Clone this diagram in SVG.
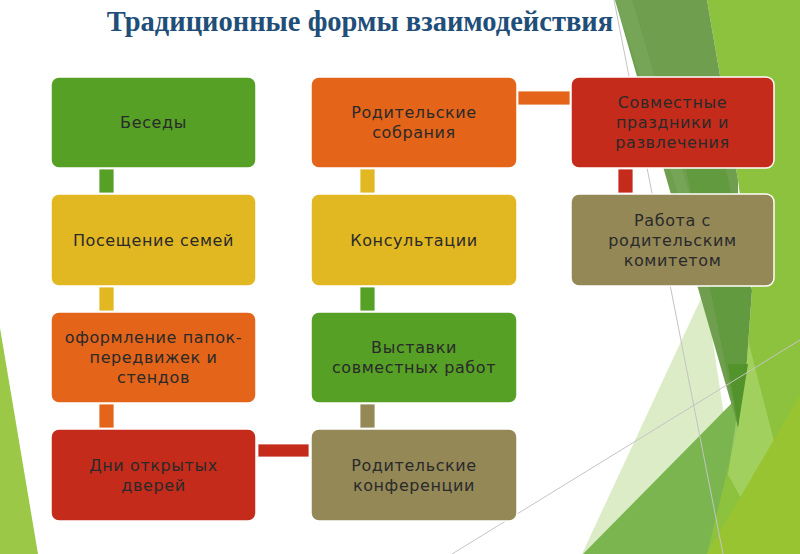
<svg xmlns="http://www.w3.org/2000/svg" width="800" height="554" viewBox="0 0 800 554">
<style>
.box{stroke:#ffffff;stroke-width:1.5}
.lbl{font-family:"DejaVu Sans","Noto Sans",sans-serif;font-size:16px;letter-spacing:0.6px;fill:#2a2a2a;text-anchor:middle}
.title{font-family:"Liberation Serif","Times New Roman",serif;font-weight:bold;font-size:28.5px;fill:#1f4e79;text-anchor:middle}
.g{fill:#55a025}.y{fill:#e1b822}.o{fill:#e46419}.r{fill:#c42b1a}.k{fill:#948857}
.con{stroke:#ffffff;stroke-width:0.8}
</style>
<rect width="800" height="554" fill="#ffffff"/>
<g id="decor">
  <polygon points="0,328 38,554 0,554" fill="#9cc847"/>
  <polygon points="705,290 582,554 745,554" fill="#c5e0a0" opacity="0.6"/>
  <polygon points="583,554 800,334 800,554" fill="#7ab54f"/>
  <polygon points="707,0 800,0 800,554 707,554 738,427 747,360 752,290 738,180" fill="#8cc23e"/>
  <polygon points="748,340 775,445 745,505 728,475" fill="#b8de7e" opacity="0.5"/>
  <polygon points="707,554 800,395 800,554" fill="#98c431"/>
  <polygon points="615,0 707,0 738,180 738,427" fill="#6f9f4e"/>
  <polygon points="615,0 632,0 700,230 690,230" fill="#7caa5e" opacity="0.6"/>
  <polygon points="680,140 725,165 752,290 747,360 738,427" fill="#629b3f"/>
  <polygon points="728,364 748,364 738,427" fill="#53932b"/>
  <line x1="614" y1="0" x2="723" y2="554" stroke="#c4c4c4" stroke-width="1"/>
  <line x1="452" y1="554" x2="800" y2="340" stroke="#c4c4c4" stroke-width="1"/>
</g>
<text class="title" x="360" y="31">Традиционные формы взаимодействия</text>
<g id="connectors">
  <rect class="con g" x="99" y="169" width="15" height="24"/>
  <rect class="con y" x="99" y="287" width="15" height="24"/>
  <rect class="con o" x="99" y="404" width="15" height="24"/>
  <rect class="con r" x="258" y="444" width="51" height="13"/>
  <rect class="con k" x="360" y="404" width="15" height="24"/>
  <rect class="con g" x="360" y="287" width="15" height="24"/>
  <rect class="con y" x="360" y="169" width="15" height="24"/>
  <rect class="con o" x="518" y="91" width="52" height="14"/>
  <rect class="con r" x="618" y="169" width="15" height="24"/>
</g>
<g id="n-besedy">
  <rect class="box g" x="51" y="77" width="205" height="91" rx="8"/>
  <text class="lbl" x="153.5" y="128.3">Беседы</text>
</g>
<g id="n-poseshchenie">
  <rect class="box y" x="51" y="194" width="205" height="92" rx="8"/>
  <text class="lbl" x="153.5" y="245.8">Посещение семей</text>
</g>
<g id="n-oformlenie">
  <rect class="box o" x="51" y="312" width="205" height="91" rx="8"/>
  <text class="lbl" x="153.5" y="343.3">оформление папок-</text>
  <text class="lbl" x="153.5" y="363.3">передвижек и</text>
  <text class="lbl" x="153.5" y="383.3">стендов</text>
</g>
<g id="n-dni">
  <rect class="box r" x="51" y="429" width="205" height="92" rx="8"/>
  <text class="lbl" x="153.5" y="470.8">Дни открытых</text>
  <text class="lbl" x="153.5" y="490.8">дверей</text>
</g>
<g id="n-sobrania">
  <rect class="box o" x="311" y="77" width="206" height="91" rx="8"/>
  <text class="lbl" x="414" y="118.3">Родительские</text>
  <text class="lbl" x="414" y="138.3">собрания</text>
</g>
<g id="n-konsultacii">
  <rect class="box y" x="311" y="194" width="206" height="92" rx="8"/>
  <text class="lbl" x="414" y="245.8">Консультации</text>
</g>
<g id="n-vystavki">
  <rect class="box g" x="311" y="312" width="206" height="91" rx="8"/>
  <text class="lbl" x="414" y="353.3">Выставки</text>
  <text class="lbl" x="414" y="373.3">совместных работ</text>
</g>
<g id="n-konferencii">
  <rect class="box k" x="311" y="429" width="206" height="92" rx="8"/>
  <text class="lbl" x="414" y="470.8">Родительские</text>
  <text class="lbl" x="414" y="490.8">конференции</text>
</g>
<g id="n-prazdniki">
  <rect class="box r" x="571" y="77" width="203" height="91" rx="8"/>
  <text class="lbl" x="672.5" y="108.3">Совместные</text>
  <text class="lbl" x="672.5" y="128.3">праздники и</text>
  <text class="lbl" x="672.5" y="148.3">развлечения</text>
</g>
<g id="n-komitet">
  <rect class="box k" x="571" y="194" width="203" height="92" rx="8"/>
  <text class="lbl" x="672.5" y="225.8">Работа с</text>
  <text class="lbl" x="672.5" y="245.8">родительским</text>
  <text class="lbl" x="672.5" y="265.8">комитетом</text>
</g>
</svg>
